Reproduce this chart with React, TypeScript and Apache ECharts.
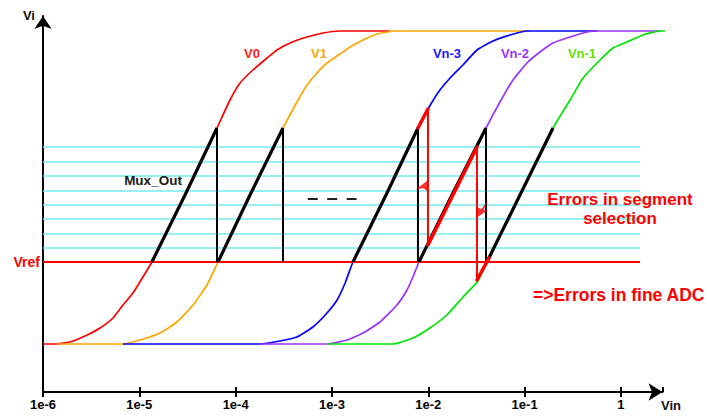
import React, { useEffect, useRef } from "react";
import * as echarts from "echarts";

const FONT = "'Liberation Sans', Arial, Helvetica, sans-serif";

// Axis settings / tick labels
const xTickLabels = ["1e-6", "1e-5", "1e-4", "1e-3", "1e-2", "1e-1", "1"];
const xMin = 1e-6;
const xMax = 2.7;
const yMin = 0;
const yMax = 376;

// Levels
const vref = 130;
const muxTop = 264;
const fineLevels = [245, 230, 216, 201, 187, 173, 158, 144];
const levelLineStart = 1e-6;
const levelLineEnd = 1.575;

// Curves (Vin, Vi)
const v0X = [1e-6, 1.4e-6, 1.9e-6, 2.73e-6, 3.91e-6, 5.33e-6, 6.77e-6, 8.6e-6, 1.09e-5, 1.35e-5, 2.98e-5, 6.4e-5, 8.73e-5, 1.11e-4, 1.51e-4, 2.12e-4, 2.69e-4, 3.67e-4, 5.5e-4, 8.06e-4, 1.21e-3, 4.0e-3];
const v0Y = [48, 48, 50, 56, 64, 74, 87, 99, 115, 130, 197, 264, 292, 309, 322, 334, 342, 349, 355, 359, 361, 361];

const v1X = [1.4e-6, 6.77e-6, 1.02e-5, 1.64e-5, 2.46e-5, 3.61e-5, 5.04e-5, 6.56e-5, 1.41e-4, 3.1e-4, 4.33e-4, 5.5e-4, 6.99e-4, 8.88e-4, 1.21e-3, 1.54e-3, 2.1e-3, 2.93e-3, 4.51e-3, 0.1136];
const v1Y = [48, 48, 52, 59, 70, 87, 107, 130, 197, 264, 290, 307, 319, 329, 338, 345, 352, 358, 361, 361];

const vn3X = [6.77e-6, 1.79e-4, 2.89e-4, 4.33e-4, 6.35e-4, 8.88e-4, 1.13e-3, 1.37e-3, 1.65e-3, 3.64e-3, 7.81e-3, 9.92e-3, 1.32e-2, 1.8e-2, 2.29e-2, 3.2e-2, 4.69e-2, 7.05e-2, 0.1058, 0.564];
const vn3Y = [48, 48, 51, 55, 65, 79, 92, 109, 130, 197, 264, 283, 302, 317, 327, 342, 351, 357, 361, 361];

const vn2X = [1.79e-4, 8.88e-4, 1.43e-3, 2.1e-3, 3.15e-3, 4.73e-3, 6.01e-3, 6.93e-3, 8.0e-3, 1.76e-2, 3.97e-2, 5.55e-2, 7.57e-2, 0.1058, 0.1443, 0.197, 0.296, 0.444, 0.564, 2.54];
const vn2Y = [48, 48, 52, 59, 70, 87, 102, 115, 130, 197, 264, 290, 312, 329, 340, 349, 355, 360, 361, 361];

const vn1X = [8.88e-4, 4.3e-3, 6.93e-3, 1.04e-2, 1.56e-2, 2.29e-2, 3.28e-2, 4.06e-2, 8.95e-2, 0.197, 0.296, 0.404, 0.606, 0.827, 1.155, 1.693, 2.54, 3.91];
const vn1Y = [48, 48, 54, 64, 77, 95, 111, 130, 197, 264, 292, 314, 332, 344, 350, 357, 361, 361];

const curveNames = ["V0", "V1", "Vn-3", "Vn-2", "Vn-1"];
const curveColors = ["#ff0000", "#ffa500", "#0000ff", "#9933ff", "#00e600"];
const labelColors = ["#ff1a1a", "#ffa500", "#1a1aff", "#9933ff", "#66dd00"];
const resetCurves = ["V0", "V1", "Vn-3", "Vn-2"];

// "- - -" between segments
const dotsX = [5.6e-4, 1.8e-3];
const dotsY = 193;

// Error path
const errorPathX = [7.81e-3, 9.92e-3, 9.92e-3, 3.2e-2, 3.2e-2, 4.27e-2];
const errorPathY = [264, 283, 147, 245, 112, 134];
const errorArrowX = [9.92e-3, 3.2e-2];
const errorArrowY = [206, 183];

export default function App() {
  const ref = useRef<HTMLDivElement>(null);
  useEffect(() => {
    if (!ref.current) return;
    const chart = echarts.init(ref.current, undefined, { renderer: "svg" });

    const curveX = [v0X, v1X, vn3X, vn2X, vn1X];
    const curveY = [v0Y, v1Y, vn3Y, vn2Y, vn1Y];

    const series: any[] = [];

    fineLevels.forEach((lv) => {
      series.push({
        type: "line",
        data: [[levelLineStart, lv], [levelLineEnd, lv]],
        symbol: "none",
        silent: true,
        lineStyle: { color: "#74e8f2", width: 1.5 },
        z: 1,
      });
    });

    curveNames.forEach((name, i) => {
      series.push({
        type: "line",
        name,
        data: curveX[i].map((x, k) => [x, curveY[i][k]]),
        symbol: "none",
        silent: true,
        clip: false,
        smooth: 0.15,
        lineStyle: { color: curveColors[i], width: 1.7 },
        z: 2,
      });
    });

    series.push({
      type: "line",
      data: [[levelLineStart, vref], [levelLineEnd, vref]],
      symbol: "none",
      silent: true,
      lineStyle: { color: "#ff0000", width: 2 },
      z: 3,
    });

    curveNames.forEach((name, i) => {
      const seg = curveX[i]
        .map((x, k) => [x, curveY[i][k]])
        .filter((p) => p[1] >= vref && p[1] <= muxTop);
      series.push({
        type: "line",
        data: seg,
        symbol: "none",
        silent: true,
        lineStyle: { color: "#000", width: 3.2 },
        z: 4,
      });
      if (resetCurves.indexOf(name) >= 0) {
        const last = seg[seg.length - 1];
        series.push({
          type: "line",
          data: [[last[0], muxTop], [last[0], vref]],
          symbol: "none",
          silent: true,
          lineStyle: { color: "#000", width: 2 },
          z: 4,
        });
      }
    });

    series.push({
      type: "line",
      data: [[dotsX[0], dotsY], [dotsX[1], dotsY]],
      symbol: "none",
      silent: true,
      lineStyle: { color: "#222", width: 2.2, type: [10, 9.5], cap: "butt" },
      z: 4,
    });

    for (let k = 0; k < errorPathX.length - 1; k++) {
      const vertical = errorPathX[k] === errorPathX[k + 1];
      series.push({
        type: "line",
        data: [[errorPathX[k], errorPathY[k]], [errorPathX[k + 1], errorPathY[k + 1]]],
        symbol: "none",
        silent: true,
        lineStyle: { color: "#ff0000", width: vertical ? 2 : 3.5, cap: "round" },
        z: 5,
      });
    }

    series.push({
      type: "scatter",
      silent: true,
      z: 6,
      data: [
        {
          value: [errorArrowX[0], errorArrowY[0]],
          symbol: "path://M12,0 L0,9 L7,8 L12,12 Z",
          symbolSize: [13, 13],
          symbolOffset: [-5.5, 0],
        },
        {
          value: [errorArrowX[1], errorArrowY[1]],
          symbol: "path://M0,16 L0,6 L4,8 L10,0 L6,9 L10,9 Z",
          symbolSize: [11, 17],
          symbolOffset: [5.5, 0],
        },
      ],
      itemStyle: { color: "#ff0000" },
    });

    const labelFmt = (v: number) => {
      const lg = Math.log10(v);
      const e = Math.round(lg);
      if (Math.abs(lg - e) > 0.01) return "";
      return xTickLabels[e + 6] ?? "";
    };

    const txt = (text: string, x: number, y: number, fill: string, font: string, align = "center", extra: any = {}) => ({
      type: "text",
      x,
      y,
      silent: true,
      z: 10,
      style: { text, fill, font, textAlign: align, textVerticalAlign: "middle", verticalAlign: "middle", ...extra },
    });

    const graphic: any[] = [
      txt("Vi", 35, 15, "#111", `bold 13px ${FONT}`, "right"),
      txt("Vin", 671, 405, "#111", `bold 13px ${FONT}`, "center"),
      txt("Vref", 40, 262, "#ff0000", `bold 14px ${FONT}`, "right"),
      txt("V0", 252, 53, labelColors[0], `bold 13px ${FONT}`),
      txt("V1", 319, 53, labelColors[1], `bold 13px ${FONT}`),
      txt("Vn-3", 447, 53, labelColors[2], `bold 13px ${FONT}`),
      txt("Vn-2", 515, 53, labelColors[3], `bold 13px ${FONT}`),
      txt("Vn-1", 582, 53, labelColors[4], `bold 13px ${FONT}`),
      txt("Mux_Out", 153, 180, "#1a1a1a", `bold 13.5px ${FONT}`),
      txt("Errors in segment\nselection", 620, 208.5, "#ff0000", `bold 17px ${FONT}`, "center", { lineHeight: 19 }),
      txt("=>Errors in fine ADC", 533, 295, "#ff0000", `bold 17.5px ${FONT}`, "left"),
    ];

    const baseX = {
      type: "log",
      logBase: 10,
      min: xMin,
      max: xMax,
      position: "bottom",
      offset: 0,
      splitLine: { show: false },
      minorTick: { show: false },
      minorSplitLine: { show: false },
    };

    chart.setOption({
      animation: false,
      backgroundColor: "#ffffff",
      grid: { left: 43, right: 46.5, top: 16, bottom: 24, containLabel: false },
      xAxis: [
        {
          ...baseX,
          axisLine: {
            show: true,
            onZero: false,
            lineStyle: { color: "#000", width: 2 },
            symbol: ["none", "arrow"],
            symbolSize: [13, 14],
          },
          axisTick: { show: true, length: 5, lineStyle: { color: "#000", width: 2 } },
          axisLabel: {
            formatter: labelFmt,
            color: "#000",
            fontWeight: "bold",
            fontSize: 13,
            fontFamily: FONT,
            margin: 6,
            showMaxLabel: false,
          },
        },
        {
          ...baseX,
          axisLine: { show: false, onZero: false },
          axisTick: { show: true, inside: true, length: 5, lineStyle: { color: "#000", width: 2 } },
          axisLabel: { show: false },
        },
      ],
      yAxis: {
        type: "value",
        min: yMin,
        max: yMax,
        axisLine: {
          show: true,
          onZero: false,
          lineStyle: { color: "#000", width: 2 },
          symbol: ["none", "arrow"],
          symbolSize: [13, 13],
        },
        axisTick: { show: false },
        axisLabel: { show: false },
        splitLine: { show: false },
      },
      series,
      graphic,
    });

    return () => chart.dispose();
  }, []);

  return (
    <div
      ref={ref}
      style={{ position: "fixed", left: 0, top: 0, width: 709, height: 416, background: "#fff" }}
    />
  );
}
